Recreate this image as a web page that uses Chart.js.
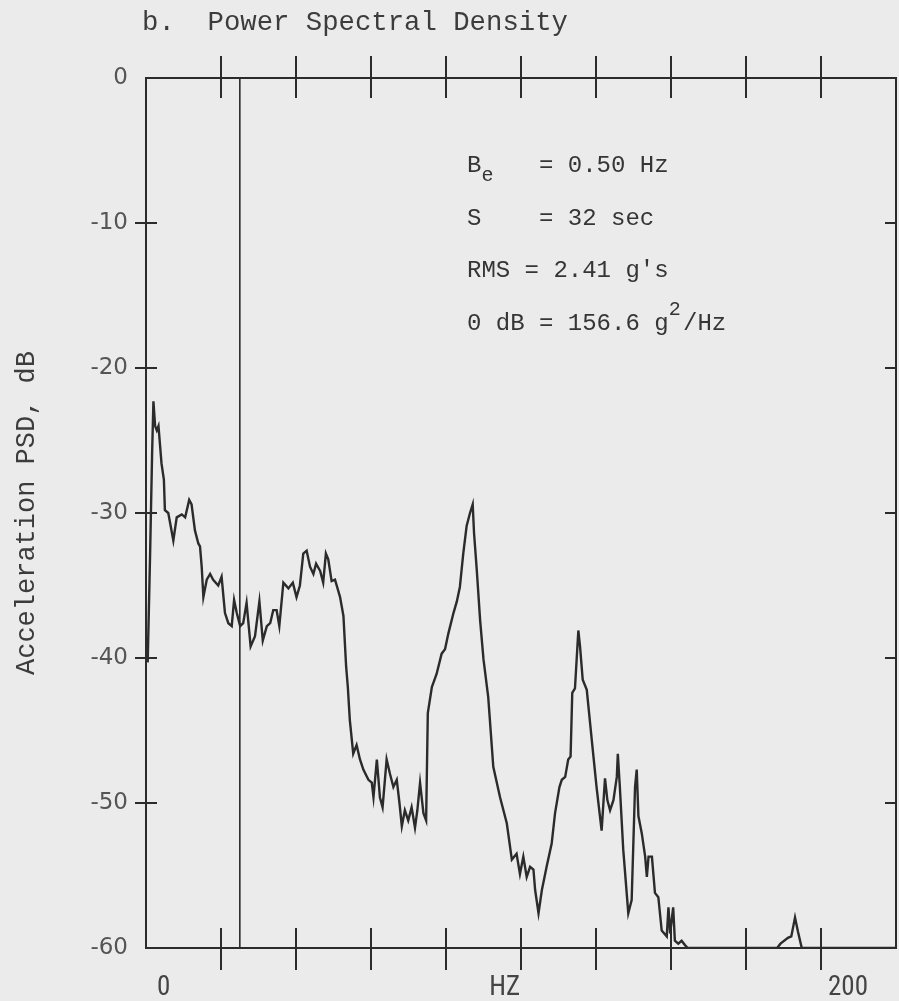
<!DOCTYPE html>
<html><head><meta charset="utf-8">
<script src="https://cdn.jsdelivr.net/npm/chart.js@4.4.1/dist/chart.umd.min.js"></script>
<style>
html,body{margin:0;padding:0;background:#ebebeb;}
canvas{display:block;}
</style></head><body>
<canvas id="c" width="899" height="1001"></canvas>
<script>
// ---- data ----
const freqHz = [0.5,1.2,1.8,2.2,2.7,3.2,3.7,4.6,5.3,5.6,6.6,8.1,9.1,10.6,11.6,12.8,13.5,14.5,15.5,16.0,16.5,17.0,18.0,19.0,19.9,21.4,22.4,23.4,24.4,25.4,26.1,26.9,27.9,28.8,29.8,31.0,32.3,33.6,34.6,35.8,36.8,37.7,38.7,39.5,40.7,42.2,43.5,44.6,45.6,46.6,47.6,48.6,49.6,50.4,51.6,52.5,53.3,54.0,55.0,56.0,57.5,58.5,59.3,59.8,60.4,61.4,62.4,63.4,64.4,65.9,66.9,67.4,68.4,69.3,70.1,71.3,72.3,73.3,74.3,75.1,75.8,76.7,77.7,78.7,79.7,80.4,81.2,82.2,83.0,83.5,84.7,86.1,87.6,88.6,89.6,91.1,92.1,93.0,94.0,95.0,96.0,96.8,97.2,98.0,99.0,100.0,101.4,102.9,104.9,106.9,108.4,109.8,110.8,111.8,112.8,113.8,114.8,115.3,116.3,117.3,118.7,120.2,121.2,122.5,123.2,124.2,125.1,125.8,126.3,127.1,128.1,128.6,129.4,130.6,132.1,133.5,135.0,136.0,136.7,137.5,138.5,139.5,139.8,140.4,141.4,142.9,143.9,144.9,145.4,145.9,146.9,147.9,148.4,148.9,149.9,150.8,151.8,152.8,154.3,154.8,155.3,156.2,156.7,157.7,158.7,159.7,160.5,187.0,188.0,190.2,191.2,192.3,193.2,194.3,222.2];
const psdDb = [-40.3,-33,-26,-22.3,-24.0,-24.3,-24.0,-26.6,-27.7,-29.8,-30.0,-31.9,-30.3,-30.1,-30.3,-29.1,-29.4,-31.2,-32.1,-32.3,-33.7,-35.8,-34.6,-34.2,-34.6,-35.0,-34.4,-36.9,-37.6,-37.8,-36.0,-36.9,-37.8,-37.6,-36.2,-39.2,-38.5,-36.1,-38.8,-37.8,-37.6,-36.7,-36.7,-37.8,-34.8,-35.2,-34.8,-35.8,-35.0,-32.8,-32.6,-33.7,-34.2,-33.5,-34.0,-34.8,-32.8,-33.2,-34.7,-34.6,-35.8,-37.1,-40.6,-42.0,-44.3,-46.6,-46.0,-47.0,-47.7,-48.4,-48.6,-49.6,-47.0,-49.6,-50.3,-47.0,-48.0,-48.9,-48.4,-50.0,-51.6,-50.5,-51.2,-50.3,-51.7,-50.5,-48.6,-50.7,-51.2,-43.8,-42.0,-41.1,-39.7,-39.4,-38.3,-36.9,-36.1,-35.1,-32.8,-30.9,-30.0,-29.4,-31.4,-33.9,-37.4,-40.1,-42.7,-47.5,-49.6,-51.4,-53.9,-53.5,-54.9,-53.7,-55.1,-54.4,-54.6,-56.0,-57.6,-56.0,-54.4,-52.8,-50.7,-48.9,-48.4,-48.2,-47.0,-46.8,-42.4,-42.1,-38.1,-39.2,-41.5,-42.2,-45.7,-48.9,-51.9,-48.3,-49.8,-50.5,-49.8,-48.2,-46.6,-48.9,-53.2,-57.6,-56.7,-48.9,-47.7,-50.9,-52.1,-53.7,-55.1,-53.7,-53.7,-56.2,-56.5,-58.8,-59.2,-57.2,-59.0,-57.2,-59.5,-59.7,-59.5,-59.8,-60,-60,-59.7,-59.3,-59.2,-57.9,-58.9,-60,-60];
const refLineHz = 27.8;
const xMaxHz = 2000 / 9;
const xTickStepHz = 200 / 9;
const xTickCount = 9;
const yTickValues = [0, -10, -20, -30, -40, -50, -60];
const yInnerTicks = [-10, -20, -30, -40, -50];
const xLabelValues = [0, 200];
const xLabelTexts = ['0', '200'];
const xAxisTitle = 'HZ';
const yAxisTitle = 'Acceleration PSD, dB';
const chartTitle = 'b.  Power Spectral Density';
const infoKeys = ['B', 'S', 'RMS', '0 dB'];
const infoVals = ['0.50 Hz', '32 sec', "2.41 g's", '156.6 g'];

const INK = '#2b2b2b';
const MONO = '"Liberation Mono", "DejaVu Sans Mono", monospace';
const NARROW = '"Liberation Sans Narrow", "Roboto Condensed", "DejaVu Sans Condensed", Roboto, sans-serif';

const decor = {
  id: 'decor',
  beforeDraw(chart) {
    const c = chart.ctx;
    c.save(); c.fillStyle = '#ebebeb'; c.fillRect(0, 0, chart.width, chart.height); c.restore();
  },
  afterDraw(chart) {
    const c = chart.ctx, a = chart.chartArea, xs = chart.scales.x, ys = chart.scales.y;
    c.save();
    c.strokeStyle = INK; c.lineWidth = 2;
    c.strokeRect(a.left, a.top, a.right - a.left, a.bottom - a.top);
    c.beginPath();
    for (let k = 1; k <= xTickCount; k++) {
      const px = Math.round(xs.getPixelForValue(k * xTickStepHz));
      c.moveTo(px, a.bottom - 20); c.lineTo(px, a.bottom + 22);
      c.moveTo(px, a.top - 22); c.lineTo(px, a.top + 20);
    }
    yInnerTicks.forEach(v => {
      const py = Math.round(ys.getPixelForValue(v));
      c.moveTo(a.left - 11, py); c.lineTo(a.left + 11, py);
      c.moveTo(a.right - 11, py); c.lineTo(a.right, py);
    });
    c.stroke();
    // title
    c.fillStyle = '#3c3c3c';
    c.font = '27.3px ' + MONO; c.textBaseline = 'alphabetic'; c.textAlign = 'left';
    c.fillText(chartTitle, 142, 30);
    // x labels
    c.font = '27px ' + NARROW; c.fillStyle = '#444';
    xLabelValues.forEach((v, i) => {
      c.textAlign = 'left';
      c.fillText(xLabelTexts[i], xs.getPixelForValue(v) + (i === 0 ? 11 : 7), 995);
    });
    c.textAlign = 'right';
    c.fillText(xAxisTitle, xs.getPixelForValue(5 * xTickStepHz) - 1, 995);
    // info block
    c.font = '24px ' + MONO; c.textAlign = 'left'; c.fillStyle = '#353535';
    const w = c.measureText('M').width;
    const x0 = a.left + 321;
    const base = [172, 225, 277, 330];
    infoKeys.forEach((k, i) => {
      const y = base[i];
      c.font = '24px ' + MONO;
      c.fillText(k, x0, y);
      const eqCol = (k === 'RMS') ? 4 : 5;
      c.fillText('= ' + infoVals[i], x0 + eqCol * w, y);
      if (i === 0) { c.font = '20px ' + MONO; c.fillText('e', x0 + w, y + 9); }
      if (i === 3) {
        const col = eqCol + 2 + infoVals[i].length;
        c.font = '20px ' + MONO; c.fillText('2', x0 + col * w, y - 15);
        c.font = '24px ' + MONO; c.fillText('/Hz', x0 + (col + 1) * w, y);
      }
    });
    c.restore();
  }
};

new Chart(document.getElementById('c'), {
  type: 'line',
  data: {
    datasets: [
      { data: freqHz.map((f, i) => ({ x: f, y: psdDb[i] })), borderColor: INK, borderWidth: 2.4, pointRadius: 0, tension: 0 },
      { data: [{ x: refLineHz, y: 0 }, { x: refLineHz, y: -60 }], borderColor: INK, borderWidth: 1.6, pointRadius: 0 }
    ]
  },
  options: {
    responsive: false, animation: false, devicePixelRatio: 1,
    layout: { padding: { top: 78, right: 3, bottom: 53, left: 0 } },
    plugins: { legend: { display: false }, tooltip: { enabled: false }, title: { display: false } },
    scales: {
      x: {
        type: 'linear', min: 0, max: xMaxHz,
        ticks: { display: false, stepSize: xTickStepHz },
        grid: { display: false, drawTicks: false }, border: { display: false },
        afterFit: s => { s.height = 0; }
      },
      y: {
        min: -60, max: 0,
        afterBuildTicks: s => { s.ticks = yTickValues.map(v => ({ value: v })); },
        afterFit: s => { s.width = 146; },
        ticks: { padding: 18, color: '#555', font: { family: 'DejaVu Sans', size: 23 } },
        grid: { display: false, drawTicks: false }, border: { display: false },
        title: { display: true, text: yAxisTitle, color: '#3c3c3c', font: { family: 'Liberation Mono', size: 27 }, padding: { top: 11, bottom: 0 } }
      }
    }
  },
  plugins: [decor]
});
</script>
</body></html>
